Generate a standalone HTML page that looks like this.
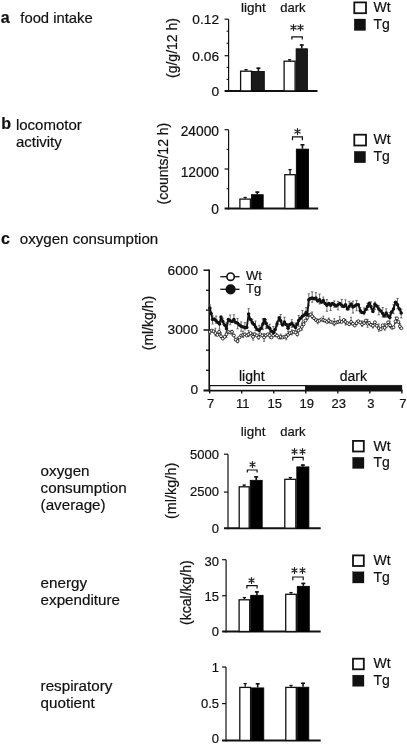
<!DOCTYPE html>
<html><head><meta charset="utf-8"><style>
html,body{margin:0;padding:0;background:#fff;}
svg{display:block;will-change:transform;}
text{font-family:"Liberation Sans", sans-serif;fill:#111;stroke:#111;stroke-width:0.2px;}
</style></head><body>
<svg width="407" height="744" viewBox="0 0 407 744">
<rect width="407" height="744" fill="#fff"/>
<text x="0.8" y="22.5" font-size="16" text-anchor="start" font-weight="bold">a</text>
<text x="20.3" y="22.9" font-size="14.8" text-anchor="start">food intake</text>
<text x="177.3" y="48" font-size="14" text-anchor="middle" transform="rotate(-90 177.3 48)">(g/g/12 h)</text>
<text x="241" y="12.1" font-size="13.5" text-anchor="start">light</text>
<text x="280.2" y="12.1" font-size="13" text-anchor="start">dark</text>
<rect x="354.3" y="2.4" width="11.7" height="10.8" fill="#fff" stroke="#111" stroke-width="1.8"/>
<rect x="354.2" y="19.0" width="11.4" height="11.5" fill="#111" stroke="#111" stroke-width="0.3"/>
<text x="373.5" y="12.1" font-size="14" text-anchor="start">Wt</text>
<text x="373.5" y="28.7" font-size="14" text-anchor="start">Tg</text>
<line x1="228.6" y1="19.2" x2="228.6" y2="91.9" stroke="#111" stroke-width="1.2"/>
<line x1="224.6" y1="90.9" x2="317.5" y2="90.9" stroke="#111" stroke-width="2"/>
<line x1="224.6" y1="19.2" x2="228.6" y2="19.2" stroke="#111" stroke-width="1.2"/>
<line x1="224.6" y1="55.7" x2="228.6" y2="55.7" stroke="#111" stroke-width="1.2"/>
<line x1="226.6" y1="31.2" x2="228.6" y2="31.2" stroke="#111" stroke-width="1.1"/>
<line x1="226.6" y1="43.2" x2="228.6" y2="43.2" stroke="#111" stroke-width="1.1"/>
<line x1="226.6" y1="67.4" x2="228.6" y2="67.4" stroke="#111" stroke-width="1.1"/>
<line x1="226.6" y1="79.4" x2="228.6" y2="79.4" stroke="#111" stroke-width="1.1"/>
<text x="219" y="24.432" font-size="13.7" text-anchor="end">0.12</text>
<text x="219" y="60.632000000000005" font-size="13.7" text-anchor="end">0.06</text>
<text x="219" y="95.932" font-size="13.7" text-anchor="end">0</text>
<line x1="246.05" y1="69.4" x2="246.05" y2="70.6" stroke="#111" stroke-width="1.3"/>
<line x1="244.45000000000002" y1="69.7" x2="247.65" y2="69.7" stroke="#111" stroke-width="1.3"/>
<rect x="240.6" y="71.19999999999999" width="10.899999999999995" height="19.70000000000001" fill="#fff" stroke="#111" stroke-width="1.3"/>
<rect x="252.5" y="71.4" width="11.799999999999994" height="19.500000000000007" fill="#1a1a1a" stroke="#000" stroke-width="0.8"/>
<line x1="258.4" y1="67.7" x2="258.4" y2="71" stroke="#111" stroke-width="1.6"/>
<line x1="256.4" y1="68.2" x2="260.4" y2="68.2" stroke="#111" stroke-width="1.6"/>
<line x1="289.6" y1="59.5" x2="289.6" y2="60.6" stroke="#111" stroke-width="1.3"/>
<line x1="288.0" y1="59.8" x2="291.20000000000005" y2="59.8" stroke="#111" stroke-width="1.3"/>
<rect x="284.1" y="61.2" width="10.99999999999999" height="29.700000000000003" fill="#fff" stroke="#111" stroke-width="1.3"/>
<rect x="296.09999999999997" y="48.8" width="11.300000000000022" height="42.10000000000001" fill="#1a1a1a" stroke="#000" stroke-width="0.8"/>
<line x1="301.75" y1="44.5" x2="301.75" y2="48.4" stroke="#111" stroke-width="1.6"/>
<line x1="299.75" y1="45.0" x2="303.75" y2="45.0" stroke="#111" stroke-width="1.6"/>
<path d="M291.9 39.6 L291.9 36.8 L302.3 36.8 L302.3 39.6" fill="none" stroke="#111" stroke-width="1.2"/>
<path d="M293.50 24.50 L293.50 30.50 M296.10 26.00 L290.90 29.00 M296.10 29.00 L290.90 26.00" fill="none" stroke="#222" stroke-width="1.25" stroke-linecap="round"/>
<path d="M300.50 24.50 L300.50 30.50 M303.10 26.00 L297.90 29.00 M303.10 29.00 L297.90 26.00" fill="none" stroke="#222" stroke-width="1.25" stroke-linecap="round"/>
<text x="1.2" y="129.3" font-size="16" text-anchor="start" font-weight="bold">b</text>
<text x="15.9" y="129.6" font-size="15" text-anchor="start">locomotor</text>
<text x="15.9" y="146.6" font-size="15" text-anchor="start">activity</text>
<text x="168.5" y="163.6" font-size="14" text-anchor="middle" transform="rotate(-90 168.5 163.6)">(counts/12 h)</text>
<rect x="354.3" y="134.70000000000002" width="11.7" height="10.8" fill="#fff" stroke="#111" stroke-width="1.8"/>
<rect x="354.2" y="151.3" width="11.4" height="11.5" fill="#111" stroke="#111" stroke-width="0.3"/>
<text x="373.5" y="144.4" font-size="14" text-anchor="start">Wt</text>
<text x="373.5" y="161.0" font-size="14" text-anchor="start">Tg</text>
<line x1="228.6" y1="129.7" x2="228.6" y2="209.4" stroke="#111" stroke-width="1.2"/>
<line x1="224.6" y1="208.4" x2="318.2" y2="208.4" stroke="#111" stroke-width="2"/>
<line x1="224.6" y1="129.7" x2="228.6" y2="129.7" stroke="#111" stroke-width="1.2"/>
<line x1="224.6" y1="169" x2="228.6" y2="169" stroke="#111" stroke-width="1.2"/>
<line x1="226.6" y1="149.4" x2="228.6" y2="149.4" stroke="#111" stroke-width="1.1"/>
<line x1="226.6" y1="188.7" x2="228.6" y2="188.7" stroke="#111" stroke-width="1.1"/>
<text x="219" y="135.868" font-size="13.8" text-anchor="end">24000</text>
<text x="219" y="176.56799999999998" font-size="13.8" text-anchor="end">12000</text>
<text x="219" y="213.56799999999998" font-size="13.8" text-anchor="end">0</text>
<line x1="245.15" y1="197.2" x2="245.15" y2="198.5" stroke="#111" stroke-width="1.3"/>
<line x1="243.55" y1="197.5" x2="246.75" y2="197.5" stroke="#111" stroke-width="1.3"/>
<rect x="239.9" y="199.1" width="10.49999999999999" height="9.300000000000006" fill="#fff" stroke="#111" stroke-width="1.3"/>
<rect x="251.4" y="194.70000000000002" width="11.800000000000022" height="13.699999999999994" fill="#000" stroke="#000" stroke-width="0.8"/>
<line x1="257.3" y1="191.6" x2="257.3" y2="194.3" stroke="#111" stroke-width="1.6"/>
<line x1="255.3" y1="192.1" x2="259.3" y2="192.1" stroke="#111" stroke-width="1.6"/>
<line x1="290.04999999999995" y1="169.3" x2="290.04999999999995" y2="174.1" stroke="#111" stroke-width="1.3"/>
<line x1="288.44999999999993" y1="169.60000000000002" x2="291.65" y2="169.60000000000002" stroke="#111" stroke-width="1.3"/>
<rect x="284.8" y="174.7" width="10.49999999999999" height="33.70000000000001" fill="#fff" stroke="#111" stroke-width="1.3"/>
<rect x="296.29999999999995" y="149.1" width="12.300000000000022" height="59.30000000000002" fill="#000" stroke="#000" stroke-width="0.8"/>
<line x1="302.45" y1="144.3" x2="302.45" y2="148.7" stroke="#111" stroke-width="1.6"/>
<line x1="300.45" y1="144.8" x2="304.45" y2="144.8" stroke="#111" stroke-width="1.6"/>
<path d="M292.5 140.3 L292.5 136.8 L302.4 136.8 L302.4 140.3" fill="none" stroke="#111" stroke-width="1.2"/>
<path d="M297.50 128.50 L297.50 134.50 M300.10 130.00 L294.90 133.00 M300.10 133.00 L294.90 130.00" fill="none" stroke="#222" stroke-width="1.25" stroke-linecap="round"/>
<text x="1.1" y="244" font-size="16" text-anchor="start" font-weight="bold">c</text>
<text x="19.8" y="244" font-size="15.1" text-anchor="start">oxygen consumption</text>
<line x1="209.2" y1="269.5" x2="209.2" y2="391.5" stroke="#111" stroke-width="1.6"/>
<line x1="203.5" y1="390.5" x2="402.5" y2="390.5" stroke="#111" stroke-width="2"/>
<line x1="203.5" y1="270.2" x2="209.2" y2="270.2" stroke="#111" stroke-width="1.5"/>
<line x1="203.5" y1="330" x2="209.2" y2="330" stroke="#111" stroke-width="1.5"/>
<line x1="206" y1="290.3" x2="209.2" y2="290.3" stroke="#111" stroke-width="1.3"/>
<line x1="206" y1="310.1" x2="209.2" y2="310.1" stroke="#111" stroke-width="1.3"/>
<line x1="206" y1="350.2" x2="209.2" y2="350.2" stroke="#111" stroke-width="1.3"/>
<line x1="206" y1="370.3" x2="209.2" y2="370.3" stroke="#111" stroke-width="1.3"/>
<line x1="209.7" y1="390.5" x2="209.7" y2="393.5" stroke="#111" stroke-width="1.3"/>
<text x="210.6" y="407.7" font-size="13" text-anchor="middle">7</text>
<line x1="241.73" y1="390.5" x2="241.73" y2="393.5" stroke="#111" stroke-width="1.3"/>
<text x="242.63" y="407.7" font-size="13" text-anchor="middle">11</text>
<line x1="273.76" y1="390.5" x2="273.76" y2="393.5" stroke="#111" stroke-width="1.3"/>
<text x="274.65999999999997" y="407.7" font-size="13" text-anchor="middle">15</text>
<line x1="305.78999999999996" y1="390.5" x2="305.78999999999996" y2="393.5" stroke="#111" stroke-width="1.3"/>
<text x="306.68999999999994" y="407.7" font-size="13" text-anchor="middle">19</text>
<line x1="337.82" y1="390.5" x2="337.82" y2="393.5" stroke="#111" stroke-width="1.3"/>
<text x="338.71999999999997" y="407.7" font-size="13" text-anchor="middle">23</text>
<line x1="369.85" y1="390.5" x2="369.85" y2="393.5" stroke="#111" stroke-width="1.3"/>
<text x="370.75" y="407.7" font-size="13" text-anchor="middle">3</text>
<line x1="401.88" y1="390.5" x2="401.88" y2="393.5" stroke="#111" stroke-width="1.3"/>
<text x="402.78" y="407.7" font-size="13" text-anchor="middle">7</text>
<text x="198" y="274.7" font-size="13.7" text-anchor="end">6000</text>
<text x="198" y="334.2" font-size="13.7" text-anchor="end">3000</text>
<text x="198" y="394.3" font-size="13.7" text-anchor="end">0</text>
<text x="153.3" y="323" font-size="14" text-anchor="middle" transform="rotate(-90 153.3 323)">(ml/kg/h)</text>
<rect x="209.7" y="385.6" width="96.1" height="4.8" fill="#fff" stroke="#111" stroke-width="1.2"/>
<rect x="305.8" y="385.2" width="96.1" height="5.3" fill="#111" stroke="#111" stroke-width="0.5"/>
<text x="239" y="380.6" font-size="14" text-anchor="start">light</text>
<text x="339.8" y="380.6" font-size="14" text-anchor="start">dark</text>
<line x1="220.3" y1="276.7" x2="239.5" y2="276.7" stroke="#111" stroke-width="1.3"/>
<circle cx="230.6" cy="276.7" r="3.7" fill="#fff" stroke="#111" stroke-width="1.6"/>
<line x1="220.3" y1="289.3" x2="239.5" y2="289.3" stroke="#111" stroke-width="1.3"/>
<circle cx="230.6" cy="289.3" r="5.1" fill="#111"/>
<text x="246" y="280" font-size="13" text-anchor="start">Wt</text>
<text x="246" y="293" font-size="13" text-anchor="start">Tg</text>
<path d="M209.9 304.8 V312.1 M208.8 304.8 H211.0 M208.8 312.1 H211.0 M212.6 315.9 V324.0 M211.5 315.9 H213.7 M211.5 324.0 H213.7 M216.1 316.0 V323.1 M215.0 316.0 H217.2 M215.0 323.1 H217.2 M219.5 321.8 V329.2 M218.4 321.8 H220.6 M218.4 329.2 H220.6 M222.8 318.2 V324.3 M221.70000000000002 318.2 H223.9 M221.70000000000002 324.3 H223.9 M226.5 322.3 V332.7 M225.4 322.3 H227.6 M225.4 332.7 H227.6 M230.2 315.0 V324.7 M229.1 315.0 H231.29999999999998 M229.1 324.7 H231.29999999999998 M233.9 314.7 V322.2 M232.8 314.7 H235.0 M232.8 322.2 H235.0 M237.6 318.4 V328.8 M236.5 318.4 H238.7 M236.5 328.8 H238.7 M241.2 321.9 V331.3 M240.1 321.9 H242.29999999999998 M240.1 331.3 H242.29999999999998 M244.9 322.6 V329.9 M243.8 322.6 H246.0 M243.8 329.9 H246.0 M248.6 308.6 V318.4 M247.5 308.6 H249.7 M247.5 318.4 H249.7 M252.3 319.2 V324.7 M251.20000000000002 319.2 H253.4 M251.20000000000002 324.7 H253.4 M255.5 321.0 V330.8 M254.4 321.0 H256.6 M254.4 330.8 H256.6 M259.2 325.4 V336.1 M258.09999999999997 325.4 H260.3 M258.09999999999997 336.1 H260.3 M262.9 318.7 V329.6 M261.79999999999995 318.7 H264.0 M261.79999999999995 329.6 H264.0 M266 319.5 V328.5 M264.9 319.5 H267.1 M264.9 328.5 H267.1 M269.7 324.2 V333.9 M268.59999999999997 324.2 H270.8 M268.59999999999997 333.9 H270.8 M273.3 326.5 V334.9 M272.2 326.5 H274.40000000000003 M272.2 334.9 H274.40000000000003 M277 321.3 V326.8 M275.9 321.3 H278.1 M275.9 326.8 H278.1 M280.7 314.5 V324.5 M279.59999999999997 314.5 H281.8 M279.59999999999997 324.5 H281.8 M284.4 317.2 V325.2 M283.29999999999995 317.2 H285.5 M283.29999999999995 325.2 H285.5 M288.1 323.9 V331.7 M287.0 323.9 H289.20000000000005 M287.0 331.7 H289.20000000000005 M291.8 319.7 V327.6 M290.7 319.7 H292.90000000000003 M290.7 327.6 H292.90000000000003 M295.5 323.0 V333.2 M294.4 323.0 H296.6 M294.4 333.2 H296.6 M298.7 315.5 V326.3 M297.59999999999997 315.5 H299.8 M297.59999999999997 326.3 H299.8 M302.4 310.4 V322.3 M301.29999999999995 310.4 H303.5 M301.29999999999995 322.3 H303.5 M306.1 307.6 V315.3 M305.0 307.6 H307.20000000000005 M305.0 315.3 H307.20000000000005 M308.8 293.8 V305.6 M307.7 293.8 H309.90000000000003 M307.7 305.6 H309.90000000000003 M312.2 291.8 V302.2 M311.09999999999997 291.8 H313.3 M311.09999999999997 302.2 H313.3 M315.9 292.7 V300.7 M314.79999999999995 292.7 H317.0 M314.79999999999995 300.7 H317.0 M319.6 294.0 V304.0 M318.5 294.0 H320.70000000000005 M318.5 304.0 H320.70000000000005 M323.3 297.1 V302.7 M322.2 297.1 H324.40000000000003 M322.2 302.7 H324.40000000000003 M326.9 299.5 V311.3 M325.79999999999995 299.5 H328.0 M325.79999999999995 311.3 H328.0 M330.6 302.9 V310.5 M329.5 302.9 H331.70000000000005 M329.5 310.5 H331.70000000000005 M334.3 300.9 V307.3 M333.2 300.9 H335.40000000000003 M333.2 307.3 H335.40000000000003 M338 301.4 V309.8 M336.9 301.4 H339.1 M336.9 309.8 H339.1 M341.8 299.4 V307.5 M340.7 299.4 H342.90000000000003 M340.7 307.5 H342.90000000000003 M345.5 299.9 V306.9 M344.4 299.9 H346.6 M344.4 306.9 H346.6 M349.2 301.3 V309.8 M348.09999999999997 301.3 H350.3 M348.09999999999997 309.8 H350.3 M352.9 301.1 V313.0 M351.79999999999995 301.1 H354.0 M351.79999999999995 313.0 H354.0 M356.6 300.4 V310.7 M355.5 300.4 H357.70000000000005 M355.5 310.7 H357.70000000000005 M360.3 307.4 V313.1 M359.2 307.4 H361.40000000000003 M359.2 313.1 H361.40000000000003 M364 307.9 V314.7 M362.9 307.9 H365.1 M362.9 314.7 H365.1 M367.6 303.6 V310.1 M366.5 303.6 H368.70000000000005 M366.5 310.1 H368.70000000000005 M370.9 301.9 V309.2 M369.79999999999995 301.9 H372.0 M369.79999999999995 309.2 H372.0 M374.9 302.0 V309.7 M373.79999999999995 302.0 H376.0 M373.79999999999995 309.7 H376.0 M378.8 305.7 V314.9 M377.7 305.7 H379.90000000000003 M377.7 314.9 H379.90000000000003 M382.7 307.5 V317.0 M381.59999999999997 307.5 H383.8 M381.59999999999997 317.0 H383.8 M386.2 308.9 V317.1 M385.09999999999997 308.9 H387.3 M385.09999999999997 317.1 H387.3 M389.8 312.5 V321.8 M388.7 312.5 H390.90000000000003 M388.7 321.8 H390.90000000000003 M393.5 304.6 V313.6 M392.4 304.6 H394.6 M392.4 313.6 H394.6 M397.5 298.5 V308.7 M396.4 298.5 H398.6 M396.4 308.7 H398.6 M401.2 309.1 V317.9 M400.09999999999997 309.1 H402.3 M400.09999999999997 317.9 H402.3 M209.9 329.6 V334.2 M208.9 329.6 H210.9 M208.9 334.2 H210.9 M215.4 328.2 V335.9 M214.4 328.2 H216.4 M214.4 335.9 H216.4 M221 332.8 V337.7 M220 332.8 H222 M220 337.7 H222 M226.5 331.3 V337.2 M225.5 331.3 H227.5 M225.5 337.2 H227.5 M232 330.3 V334.9 M231 330.3 H233 M231 334.9 H233 M237.6 337.4 V342.8 M236.6 337.4 H238.6 M236.6 342.8 H238.6 M243.1 331.2 V337.6 M242.1 331.2 H244.1 M242.1 337.6 H244.1 M248.6 330.4 V336.7 M247.6 330.4 H249.6 M247.6 336.7 H249.6 M253.1 332.8 V340.1 M252.1 332.8 H254.1 M252.1 340.1 H254.1 M258.6 335.8 V339.1 M257.6 335.8 H259.6 M257.6 339.1 H259.6 M264.1 333.5 V341.3 M263.1 333.5 H265.1 M263.1 341.3 H265.1 M269.7 333.1 V338.1 M268.7 333.1 H270.7 M268.7 338.1 H270.7 M275.2 330.7 V336.6 M274.2 330.7 H276.2 M274.2 336.6 H276.2 M280.7 334.0 V339.1 M279.7 334.0 H281.7 M279.7 339.1 H281.7 M286.2 334.0 V339.8 M285.2 334.0 H287.2 M285.2 339.8 H287.2 M291.8 329.9 V334.9 M290.8 329.9 H292.8 M290.8 334.9 H292.8 M297.3 330.1 V335.9 M296.3 330.1 H298.3 M296.3 335.9 H298.3 M301.8 323.3 V330.1 M300.8 323.3 H302.8 M300.8 330.1 H302.8 M307.3 315.0 V319.7 M306.3 315.0 H308.3 M306.3 319.7 H308.3 M312.2 312.0 V318.4 M311.2 312.0 H313.2 M311.2 318.4 H313.2 M317.7 319.0 V323.8 M316.7 319.0 H318.7 M316.7 323.8 H318.7 M323.3 316.1 V321.8 M322.3 316.1 H324.3 M322.3 321.8 H324.3 M328.8 318.0 V322.9 M327.8 318.0 H329.8 M327.8 322.9 H329.8 M334.3 318.7 V325.7 M333.3 318.7 H335.3 M333.3 325.7 H335.3 M339.8 316.7 V323.1 M338.8 316.7 H340.8 M338.8 323.1 H340.8 M345.5 319.2 V325.0 M344.5 319.2 H346.5 M344.5 325.0 H346.5 M351.1 317.3 V324.5 M350.1 317.3 H352.1 M350.1 324.5 H352.1 M356.6 320.8 V324.9 M355.6 320.8 H357.6 M355.6 324.9 H357.6 M362.1 320.9 V326.3 M361.1 320.9 H363.1 M361.1 326.3 H363.1 M367.6 319.4 V327.3 M366.6 319.4 H368.6 M366.6 327.3 H368.6 M372.9 323.7 V328.0 M371.9 323.7 H373.9 M371.9 328.0 H373.9 M378.8 323.9 V331.3 M377.8 323.9 H379.8 M377.8 331.3 H379.8 M384.7 323.5 V330.2 M383.7 323.5 H385.7 M383.7 330.2 H385.7 M390.1 323.3 V327.5 M389.1 323.3 H391.1 M389.1 327.5 H391.1 M395.5 317.1 V323.6 M394.5 317.1 H396.5 M394.5 323.6 H396.5 M399.9 323.6 V328.8 M398.9 323.6 H400.9 M398.9 328.8 H400.9" fill="none" stroke="#444" stroke-width="0.75"/>
<path d="M209.9 331.9 L211.8 330.6 L213.6 331.2 L215.4 333.1 L217.3 334.9 L219.1 331.9 L221 336.2 L222.8 338.6 L224.7 336.8 L226.5 334.3 L228.3 331.9 L230.2 332.5 L232 331.9 L233.9 335.5 L235.7 339.8 L237.6 341.1 L239.4 337.4 L241.2 335.5 L243.1 334.9 L244.9 334.3 L246.8 335.5 L248.6 334.3 L250.5 333.1 L252.3 335.5 L253.1 336.8 L254.9 334.3 L256.8 335.5 L258.6 337.4 L260.4 334.3 L262.3 335.5 L264.1 337.4 L266 335.5 L267.8 334.3 L269.7 335.5 L271.5 337.4 L273.3 335.5 L275.2 334.3 L277 335.5 L278.9 337.4 L280.7 336.8 L282.6 337.4 L284.4 336.8 L286.2 336.8 L288.1 334.9 L289.9 333.1 L291.8 332.5 L293.6 331.9 L295.5 332.5 L297.3 334.3 L298.7 330.5 L300.5 329.2 L301.8 326.8 L303.6 324.3 L305.4 320.6 L307.3 317.6 L309.1 315.1 L310.7 314.5 L312.2 316.3 L314 318.2 L315.9 320 L317.7 321.2 L319.6 320.6 L321.4 319.4 L323.3 320 L325.1 320.6 L326.9 321.9 L328.8 320.6 L330.6 321.9 L332.5 322.5 L334.3 323.1 L336.2 322.5 L338 321.9 L339.8 321.2 L341.8 321.9 L343.7 320 L345.5 321.9 L347.4 323.1 L349.2 324.3 L351.1 321.9 L352.9 323.7 L354.7 325.5 L356.6 323.1 L358.4 321.2 L360.3 322.5 L362.1 324.3 L364 323.1 L365.8 320.6 L367.6 323.7 L369.2 322.8 L370.9 324.8 L372.9 325.8 L374.9 322.3 L376.8 325.8 L378.8 328.2 L380.8 329.2 L382.7 325.3 L384.7 327.8 L386.7 325.8 L388.1 322.3 L390.1 325.3 L392.1 327.8 L393.5 327.3 L395.5 321.4 L397 318.4 L398.4 321.9 L399.9 326.3 L401.4 328.2" fill="none" stroke="#222" stroke-width="0.9"/>
<g fill="#fff" stroke="#111" stroke-width="0.85"><circle cx="209.9" cy="331.9" r="1.45"/><circle cx="211.8" cy="330.6" r="1.45"/><circle cx="213.6" cy="331.2" r="1.45"/><circle cx="215.4" cy="333.1" r="1.45"/><circle cx="217.3" cy="334.9" r="1.45"/><circle cx="219.1" cy="331.9" r="1.45"/><circle cx="221" cy="336.2" r="1.45"/><circle cx="222.8" cy="338.6" r="1.45"/><circle cx="224.7" cy="336.8" r="1.45"/><circle cx="226.5" cy="334.3" r="1.45"/><circle cx="228.3" cy="331.9" r="1.45"/><circle cx="230.2" cy="332.5" r="1.45"/><circle cx="232" cy="331.9" r="1.45"/><circle cx="233.9" cy="335.5" r="1.45"/><circle cx="235.7" cy="339.8" r="1.45"/><circle cx="237.6" cy="341.1" r="1.45"/><circle cx="239.4" cy="337.4" r="1.45"/><circle cx="241.2" cy="335.5" r="1.45"/><circle cx="243.1" cy="334.9" r="1.45"/><circle cx="244.9" cy="334.3" r="1.45"/><circle cx="246.8" cy="335.5" r="1.45"/><circle cx="248.6" cy="334.3" r="1.45"/><circle cx="250.5" cy="333.1" r="1.45"/><circle cx="252.3" cy="335.5" r="1.45"/><circle cx="253.1" cy="336.8" r="1.45"/><circle cx="254.9" cy="334.3" r="1.45"/><circle cx="256.8" cy="335.5" r="1.45"/><circle cx="258.6" cy="337.4" r="1.45"/><circle cx="260.4" cy="334.3" r="1.45"/><circle cx="262.3" cy="335.5" r="1.45"/><circle cx="264.1" cy="337.4" r="1.45"/><circle cx="266" cy="335.5" r="1.45"/><circle cx="267.8" cy="334.3" r="1.45"/><circle cx="269.7" cy="335.5" r="1.45"/><circle cx="271.5" cy="337.4" r="1.45"/><circle cx="273.3" cy="335.5" r="1.45"/><circle cx="275.2" cy="334.3" r="1.45"/><circle cx="277" cy="335.5" r="1.45"/><circle cx="278.9" cy="337.4" r="1.45"/><circle cx="280.7" cy="336.8" r="1.45"/><circle cx="282.6" cy="337.4" r="1.45"/><circle cx="284.4" cy="336.8" r="1.45"/><circle cx="286.2" cy="336.8" r="1.45"/><circle cx="288.1" cy="334.9" r="1.45"/><circle cx="289.9" cy="333.1" r="1.45"/><circle cx="291.8" cy="332.5" r="1.45"/><circle cx="293.6" cy="331.9" r="1.45"/><circle cx="295.5" cy="332.5" r="1.45"/><circle cx="297.3" cy="334.3" r="1.45"/><circle cx="298.7" cy="330.5" r="1.45"/><circle cx="300.5" cy="329.2" r="1.45"/><circle cx="301.8" cy="326.8" r="1.45"/><circle cx="303.6" cy="324.3" r="1.45"/><circle cx="305.4" cy="320.6" r="1.45"/><circle cx="307.3" cy="317.6" r="1.45"/><circle cx="309.1" cy="315.1" r="1.45"/><circle cx="310.7" cy="314.5" r="1.45"/><circle cx="312.2" cy="316.3" r="1.45"/><circle cx="314" cy="318.2" r="1.45"/><circle cx="315.9" cy="320" r="1.45"/><circle cx="317.7" cy="321.2" r="1.45"/><circle cx="319.6" cy="320.6" r="1.45"/><circle cx="321.4" cy="319.4" r="1.45"/><circle cx="323.3" cy="320" r="1.45"/><circle cx="325.1" cy="320.6" r="1.45"/><circle cx="326.9" cy="321.9" r="1.45"/><circle cx="328.8" cy="320.6" r="1.45"/><circle cx="330.6" cy="321.9" r="1.45"/><circle cx="332.5" cy="322.5" r="1.45"/><circle cx="334.3" cy="323.1" r="1.45"/><circle cx="336.2" cy="322.5" r="1.45"/><circle cx="338" cy="321.9" r="1.45"/><circle cx="339.8" cy="321.2" r="1.45"/><circle cx="341.8" cy="321.9" r="1.45"/><circle cx="343.7" cy="320" r="1.45"/><circle cx="345.5" cy="321.9" r="1.45"/><circle cx="347.4" cy="323.1" r="1.45"/><circle cx="349.2" cy="324.3" r="1.45"/><circle cx="351.1" cy="321.9" r="1.45"/><circle cx="352.9" cy="323.7" r="1.45"/><circle cx="354.7" cy="325.5" r="1.45"/><circle cx="356.6" cy="323.1" r="1.45"/><circle cx="358.4" cy="321.2" r="1.45"/><circle cx="360.3" cy="322.5" r="1.45"/><circle cx="362.1" cy="324.3" r="1.45"/><circle cx="364" cy="323.1" r="1.45"/><circle cx="365.8" cy="320.6" r="1.45"/><circle cx="367.6" cy="323.7" r="1.45"/><circle cx="369.2" cy="322.8" r="1.45"/><circle cx="370.9" cy="324.8" r="1.45"/><circle cx="372.9" cy="325.8" r="1.45"/><circle cx="374.9" cy="322.3" r="1.45"/><circle cx="376.8" cy="325.8" r="1.45"/><circle cx="378.8" cy="328.2" r="1.45"/><circle cx="380.8" cy="329.2" r="1.45"/><circle cx="382.7" cy="325.3" r="1.45"/><circle cx="384.7" cy="327.8" r="1.45"/><circle cx="386.7" cy="325.8" r="1.45"/><circle cx="388.1" cy="322.3" r="1.45"/><circle cx="390.1" cy="325.3" r="1.45"/><circle cx="392.1" cy="327.8" r="1.45"/><circle cx="393.5" cy="327.3" r="1.45"/><circle cx="395.5" cy="321.4" r="1.45"/><circle cx="397" cy="318.4" r="1.45"/><circle cx="398.4" cy="321.9" r="1.45"/><circle cx="399.9" cy="326.3" r="1.45"/><circle cx="401.4" cy="328.2" r="1.45"/></g>
<path d="M209.9 307.9 L211.1 313.4 L212.6 319.6 L214.2 319 L216.1 320.8 L217.9 322.6 L219.5 323.9 L221 317.1 L222.8 321.4 L224.7 325.1 L226.5 328.8 L228.3 319.6 L230.2 320.8 L232 321.4 L233.9 319.6 L235.7 322.6 L237.6 323.3 L239.4 325.1 L241.2 326.3 L243.1 326.9 L244.9 327.6 L246.8 327.6 L248.6 314 L250.5 319.6 L252.3 322.6 L254.1 324.5 L255.5 326.9 L257.4 329.4 L259.2 330.6 L261.1 328.2 L262.9 323.9 L264.5 319.6 L266 323.3 L267.8 326.9 L269.7 328.2 L271.5 331.2 L273.3 332.5 L275.2 329.4 L277 323.9 L279.2 317.7 L280.7 320.8 L282.6 325.1 L284.4 322 L286.2 324.5 L288.1 328.2 L289.9 324.5 L291.8 323.3 L293.6 325.7 L295.5 327.6 L297.3 323.9 L298.7 320.6 L300.5 318.2 L302.4 316.3 L304.2 315.1 L306.1 312.6 L307.3 314.5 L308.8 299.7 L310.4 298.5 L312.2 297.9 L314 298.8 L315.9 297.9 L317.7 301 L319.6 299.7 L321.4 302.2 L323.3 300.4 L325.1 303.4 L326.9 305.3 L328.8 303.4 L330.6 305.3 L332.5 303.4 L334.3 304.7 L336.2 305.9 L338 304.7 L339.8 303.4 L341.8 305.3 L343.7 306.5 L345.5 304.7 L347.4 309 L349.2 306.5 L351.1 304 L352.9 307.1 L354.7 305.9 L356.6 304.7 L358.4 304.7 L360.3 310.8 L362.1 312.6 L364 312.6 L365.8 309.6 L367.6 306.5 L369.2 303.3 L370.9 306.6 L372.9 311.5 L374.9 304.2 L376.8 306.1 L378.8 309.1 L380.8 311 L382.7 313.5 L384.2 316 L386.2 313 L388.1 316 L389.8 317.4 L391.6 312 L393.5 309.1 L395.5 302.2 L397.5 304.7 L399.4 309.1 L401.2 313" fill="none" stroke="#111" stroke-width="1.9" stroke-linejoin="round"/>
<g fill="#111"><circle cx="209.9" cy="307.9" r="1.75"/><circle cx="211.1" cy="313.4" r="1.75"/><circle cx="212.6" cy="319.6" r="1.75"/><circle cx="214.2" cy="319" r="1.75"/><circle cx="216.1" cy="320.8" r="1.75"/><circle cx="217.9" cy="322.6" r="1.75"/><circle cx="219.5" cy="323.9" r="1.75"/><circle cx="221" cy="317.1" r="1.75"/><circle cx="222.8" cy="321.4" r="1.75"/><circle cx="224.7" cy="325.1" r="1.75"/><circle cx="226.5" cy="328.8" r="1.75"/><circle cx="228.3" cy="319.6" r="1.75"/><circle cx="230.2" cy="320.8" r="1.75"/><circle cx="232" cy="321.4" r="1.75"/><circle cx="233.9" cy="319.6" r="1.75"/><circle cx="235.7" cy="322.6" r="1.75"/><circle cx="237.6" cy="323.3" r="1.75"/><circle cx="239.4" cy="325.1" r="1.75"/><circle cx="241.2" cy="326.3" r="1.75"/><circle cx="243.1" cy="326.9" r="1.75"/><circle cx="244.9" cy="327.6" r="1.75"/><circle cx="246.8" cy="327.6" r="1.75"/><circle cx="248.6" cy="314" r="1.75"/><circle cx="250.5" cy="319.6" r="1.75"/><circle cx="252.3" cy="322.6" r="1.75"/><circle cx="254.1" cy="324.5" r="1.75"/><circle cx="255.5" cy="326.9" r="1.75"/><circle cx="257.4" cy="329.4" r="1.75"/><circle cx="259.2" cy="330.6" r="1.75"/><circle cx="261.1" cy="328.2" r="1.75"/><circle cx="262.9" cy="323.9" r="1.75"/><circle cx="264.5" cy="319.6" r="1.75"/><circle cx="266" cy="323.3" r="1.75"/><circle cx="267.8" cy="326.9" r="1.75"/><circle cx="269.7" cy="328.2" r="1.75"/><circle cx="271.5" cy="331.2" r="1.75"/><circle cx="273.3" cy="332.5" r="1.75"/><circle cx="275.2" cy="329.4" r="1.75"/><circle cx="277" cy="323.9" r="1.75"/><circle cx="279.2" cy="317.7" r="1.75"/><circle cx="280.7" cy="320.8" r="1.75"/><circle cx="282.6" cy="325.1" r="1.75"/><circle cx="284.4" cy="322" r="1.75"/><circle cx="286.2" cy="324.5" r="1.75"/><circle cx="288.1" cy="328.2" r="1.75"/><circle cx="289.9" cy="324.5" r="1.75"/><circle cx="291.8" cy="323.3" r="1.75"/><circle cx="293.6" cy="325.7" r="1.75"/><circle cx="295.5" cy="327.6" r="1.75"/><circle cx="297.3" cy="323.9" r="1.75"/><circle cx="298.7" cy="320.6" r="1.75"/><circle cx="300.5" cy="318.2" r="1.75"/><circle cx="302.4" cy="316.3" r="1.75"/><circle cx="304.2" cy="315.1" r="1.75"/><circle cx="306.1" cy="312.6" r="1.75"/><circle cx="307.3" cy="314.5" r="1.75"/><circle cx="308.8" cy="299.7" r="1.75"/><circle cx="310.4" cy="298.5" r="1.75"/><circle cx="312.2" cy="297.9" r="1.75"/><circle cx="314" cy="298.8" r="1.75"/><circle cx="315.9" cy="297.9" r="1.75"/><circle cx="317.7" cy="301" r="1.75"/><circle cx="319.6" cy="299.7" r="1.75"/><circle cx="321.4" cy="302.2" r="1.75"/><circle cx="323.3" cy="300.4" r="1.75"/><circle cx="325.1" cy="303.4" r="1.75"/><circle cx="326.9" cy="305.3" r="1.75"/><circle cx="328.8" cy="303.4" r="1.75"/><circle cx="330.6" cy="305.3" r="1.75"/><circle cx="332.5" cy="303.4" r="1.75"/><circle cx="334.3" cy="304.7" r="1.75"/><circle cx="336.2" cy="305.9" r="1.75"/><circle cx="338" cy="304.7" r="1.75"/><circle cx="339.8" cy="303.4" r="1.75"/><circle cx="341.8" cy="305.3" r="1.75"/><circle cx="343.7" cy="306.5" r="1.75"/><circle cx="345.5" cy="304.7" r="1.75"/><circle cx="347.4" cy="309" r="1.75"/><circle cx="349.2" cy="306.5" r="1.75"/><circle cx="351.1" cy="304" r="1.75"/><circle cx="352.9" cy="307.1" r="1.75"/><circle cx="354.7" cy="305.9" r="1.75"/><circle cx="356.6" cy="304.7" r="1.75"/><circle cx="358.4" cy="304.7" r="1.75"/><circle cx="360.3" cy="310.8" r="1.75"/><circle cx="362.1" cy="312.6" r="1.75"/><circle cx="364" cy="312.6" r="1.75"/><circle cx="365.8" cy="309.6" r="1.75"/><circle cx="367.6" cy="306.5" r="1.75"/><circle cx="369.2" cy="303.3" r="1.75"/><circle cx="370.9" cy="306.6" r="1.75"/><circle cx="372.9" cy="311.5" r="1.75"/><circle cx="374.9" cy="304.2" r="1.75"/><circle cx="376.8" cy="306.1" r="1.75"/><circle cx="378.8" cy="309.1" r="1.75"/><circle cx="380.8" cy="311" r="1.75"/><circle cx="382.7" cy="313.5" r="1.75"/><circle cx="384.2" cy="316" r="1.75"/><circle cx="386.2" cy="313" r="1.75"/><circle cx="388.1" cy="316" r="1.75"/><circle cx="389.8" cy="317.4" r="1.75"/><circle cx="391.6" cy="312" r="1.75"/><circle cx="393.5" cy="309.1" r="1.75"/><circle cx="395.5" cy="302.2" r="1.75"/><circle cx="397.5" cy="304.7" r="1.75"/><circle cx="399.4" cy="309.1" r="1.75"/><circle cx="401.2" cy="313" r="1.75"/></g>
<text x="240.7" y="436.3" font-size="13.5" text-anchor="start">light</text>
<text x="280.2" y="436.3" font-size="13" text-anchor="start">dark</text>
<text x="40.6" y="475.8" font-size="15.2" text-anchor="start">oxygen</text>
<text x="40.6" y="493" font-size="15.2" text-anchor="start">consumption</text>
<text x="40.6" y="510.3" font-size="15.2" text-anchor="start">(average)</text>
<text x="176.2" y="490.9" font-size="14.5" text-anchor="middle" transform="rotate(-90 176.2 490.9)">(ml/kg/h)</text>
<rect x="353.0" y="440.9" width="10.8" height="10.6" fill="#fff" stroke="#111" stroke-width="1.8"/>
<rect x="352.6" y="457.3" width="11.4" height="11.2" fill="#111" stroke="#111" stroke-width="0.3"/>
<text x="373.5" y="450.6" font-size="14" text-anchor="start">Wt</text>
<text x="373.5" y="467.2" font-size="14" text-anchor="start">Tg</text>
<line x1="228.0" y1="454.2" x2="228.0" y2="529.2" stroke="#111" stroke-width="1.2"/>
<line x1="224.0" y1="528.2" x2="320.7" y2="528.2" stroke="#111" stroke-width="2"/>
<line x1="224.0" y1="454.2" x2="228.0" y2="454.2" stroke="#111" stroke-width="1.2"/>
<line x1="224.0" y1="492.1" x2="228.0" y2="492.1" stroke="#111" stroke-width="1.2"/>
<text x="219" y="459.28000000000003" font-size="13" text-anchor="end">5000</text>
<text x="219" y="495.88" font-size="13" text-anchor="end">2500</text>
<text x="219" y="532.88" font-size="13" text-anchor="end">0</text>
<line x1="244.2" y1="484.8" x2="244.2" y2="486.2" stroke="#111" stroke-width="1.3"/>
<line x1="242.6" y1="485.1" x2="245.79999999999998" y2="485.1" stroke="#111" stroke-width="1.3"/>
<rect x="239.2" y="486.8" width="10.000000000000018" height="41.400000000000055" fill="#fff" stroke="#111" stroke-width="1.3"/>
<rect x="250.20000000000002" y="480.29999999999995" width="12.00000000000001" height="47.90000000000007" fill="#000" stroke="#000" stroke-width="0.8"/>
<line x1="256.20000000000005" y1="476.4" x2="256.20000000000005" y2="479.9" stroke="#111" stroke-width="1.6"/>
<line x1="254.20000000000005" y1="476.9" x2="258.20000000000005" y2="476.9" stroke="#111" stroke-width="1.6"/>
<line x1="290.29999999999995" y1="477.3" x2="290.29999999999995" y2="478.7" stroke="#111" stroke-width="1.3"/>
<line x1="288.69999999999993" y1="477.6" x2="291.9" y2="477.6" stroke="#111" stroke-width="1.3"/>
<rect x="284.8" y="479.3" width="10.99999999999999" height="48.900000000000055" fill="#fff" stroke="#111" stroke-width="1.3"/>
<rect x="296.79999999999995" y="466.9" width="12.100000000000033" height="61.30000000000005" fill="#000" stroke="#000" stroke-width="0.8"/>
<line x1="302.85" y1="464.6" x2="302.85" y2="466.5" stroke="#111" stroke-width="1.6"/>
<line x1="300.85" y1="465.1" x2="304.85" y2="465.1" stroke="#111" stroke-width="1.6"/>
<path d="M247.3 472.6 L247.3 470 L257.1 470 L257.1 472.6" fill="none" stroke="#111" stroke-width="1.2"/>
<path d="M252.50 461.60 L252.50 467.40 M255.01 463.05 L249.99 465.95 M255.01 465.95 L249.99 463.05" fill="none" stroke="#222" stroke-width="1.25" stroke-linecap="round"/>
<path d="M292.8 460.4 L292.8 457.3 L303.2 457.3 L303.2 460.4" fill="none" stroke="#111" stroke-width="1.2"/>
<path d="M294.50 448.60 L294.50 454.40 M297.01 450.05 L291.99 452.95 M297.01 452.95 L291.99 450.05" fill="none" stroke="#222" stroke-width="1.25" stroke-linecap="round"/>
<path d="M302.50 448.60 L302.50 454.40 M305.01 450.05 L299.99 452.95 M305.01 452.95 L299.99 450.05" fill="none" stroke="#222" stroke-width="1.25" stroke-linecap="round"/>
<text x="40.6" y="587.8" font-size="15.2" text-anchor="start">energy</text>
<text x="40.6" y="604.6" font-size="15.2" text-anchor="start">expenditure</text>
<text x="190.6" y="592.6" font-size="14" text-anchor="middle" transform="rotate(-90 190.6 592.6)">(kcal/kg/h)</text>
<rect x="353.0" y="555.4" width="10.8" height="10.6" fill="#fff" stroke="#111" stroke-width="1.8"/>
<rect x="352.6" y="571.8" width="11.4" height="11.2" fill="#111" stroke="#111" stroke-width="0.3"/>
<text x="373.5" y="565.1" font-size="14" text-anchor="start">Wt</text>
<text x="373.5" y="581.7" font-size="14" text-anchor="start">Tg</text>
<line x1="226.1" y1="559.7" x2="226.1" y2="632.5" stroke="#111" stroke-width="1.2"/>
<line x1="222.1" y1="631.5" x2="320.7" y2="631.5" stroke="#111" stroke-width="2"/>
<line x1="222.1" y1="559.7" x2="226.1" y2="559.7" stroke="#111" stroke-width="1.2"/>
<line x1="222.1" y1="595.7" x2="226.1" y2="595.7" stroke="#111" stroke-width="1.2"/>
<text x="219" y="566.0799999999999" font-size="13" text-anchor="end">30</text>
<text x="219" y="600.9799999999999" font-size="13" text-anchor="end">15</text>
<text x="219" y="635.9799999999999" font-size="13" text-anchor="end">0</text>
<line x1="244.4" y1="597.3" x2="244.4" y2="599.2" stroke="#111" stroke-width="1.3"/>
<line x1="242.8" y1="597.5999999999999" x2="246.0" y2="597.5999999999999" stroke="#111" stroke-width="1.3"/>
<rect x="239.1" y="599.8000000000001" width="10.600000000000012" height="31.699999999999953" fill="#fff" stroke="#111" stroke-width="1.3"/>
<rect x="250.70000000000002" y="595.3" width="12.399999999999988" height="36.200000000000024" fill="#000" stroke="#000" stroke-width="0.8"/>
<line x1="256.9" y1="591.4" x2="256.9" y2="594.9" stroke="#111" stroke-width="1.6"/>
<line x1="254.89999999999998" y1="591.9" x2="258.9" y2="591.9" stroke="#111" stroke-width="1.6"/>
<line x1="291.0" y1="592.3" x2="291.0" y2="593.7" stroke="#111" stroke-width="1.3"/>
<line x1="289.4" y1="592.5999999999999" x2="292.6" y2="592.5999999999999" stroke="#111" stroke-width="1.3"/>
<rect x="285.70000000000005" y="594.3000000000001" width="10.599999999999955" height="37.19999999999995" fill="#fff" stroke="#111" stroke-width="1.3"/>
<rect x="297.29999999999995" y="586.3" width="12.00000000000001" height="45.200000000000024" fill="#000" stroke="#000" stroke-width="0.8"/>
<line x1="303.29999999999995" y1="582.9" x2="303.29999999999995" y2="585.9" stroke="#111" stroke-width="1.6"/>
<line x1="301.29999999999995" y1="583.4" x2="305.29999999999995" y2="583.4" stroke="#111" stroke-width="1.6"/>
<path d="M246.9 588.6 L246.9 585.6 L257.1 585.6 L257.1 588.6" fill="none" stroke="#111" stroke-width="1.2"/>
<path d="M251.50 577.60 L251.50 583.40 M254.01 579.05 L248.99 581.95 M254.01 581.95 L248.99 579.05" fill="none" stroke="#222" stroke-width="1.25" stroke-linecap="round"/>
<path d="M292.8 580.3 L292.8 577.0 L303.2 577.0 L303.2 580.3" fill="none" stroke="#111" stroke-width="1.2"/>
<path d="M294.50 567.60 L294.50 573.40 M297.01 569.05 L291.99 571.95 M297.01 571.95 L291.99 569.05" fill="none" stroke="#222" stroke-width="1.25" stroke-linecap="round"/>
<path d="M302.50 567.60 L302.50 573.40 M305.01 569.05 L299.99 571.95 M305.01 571.95 L299.99 569.05" fill="none" stroke="#222" stroke-width="1.25" stroke-linecap="round"/>
<text x="40.6" y="690.8" font-size="15.2" text-anchor="start">respiratory</text>
<text x="40.6" y="708" font-size="15.2" text-anchor="start">quotient</text>
<rect x="353.0" y="658.6999999999999" width="10.8" height="10.6" fill="#fff" stroke="#111" stroke-width="1.8"/>
<rect x="352.6" y="675.0999999999999" width="11.4" height="11.2" fill="#111" stroke="#111" stroke-width="0.3"/>
<text x="373.5" y="668.4" font-size="14" text-anchor="start">Wt</text>
<text x="373.5" y="685.0" font-size="14" text-anchor="start">Tg</text>
<line x1="226.0" y1="667" x2="226.0" y2="741.4" stroke="#111" stroke-width="1.2"/>
<line x1="222.0" y1="740.4" x2="320.7" y2="740.4" stroke="#111" stroke-width="2"/>
<line x1="222.0" y1="667" x2="226.0" y2="667" stroke="#111" stroke-width="1.2"/>
<line x1="222.0" y1="703.6" x2="226.0" y2="703.6" stroke="#111" stroke-width="1.2"/>
<text x="219" y="671.9799999999999" font-size="13" text-anchor="end">1</text>
<text x="219" y="707.9799999999999" font-size="13" text-anchor="end">0.5</text>
<text x="219" y="742.5799999999999" font-size="13" text-anchor="end">0</text>
<line x1="245.2" y1="683.3" x2="245.2" y2="686.8" stroke="#111" stroke-width="1.3"/>
<line x1="243.6" y1="683.5999999999999" x2="246.79999999999998" y2="683.5999999999999" stroke="#111" stroke-width="1.3"/>
<rect x="239.79999999999998" y="687.4" width="10.8" height="53.00000000000002" fill="#fff" stroke="#111" stroke-width="1.3"/>
<rect x="251.6" y="687.9" width="12.2" height="52.49999999999998" fill="#000" stroke="#000" stroke-width="0.8"/>
<line x1="257.7" y1="683.3" x2="257.7" y2="687.5" stroke="#111" stroke-width="1.6"/>
<line x1="255.7" y1="683.8" x2="259.7" y2="683.8" stroke="#111" stroke-width="1.6"/>
<line x1="291.04999999999995" y1="685.2" x2="291.04999999999995" y2="686.8" stroke="#111" stroke-width="1.3"/>
<line x1="289.44999999999993" y1="685.5" x2="292.65" y2="685.5" stroke="#111" stroke-width="1.3"/>
<rect x="285.8" y="687.4" width="10.49999999999999" height="53.00000000000002" fill="#fff" stroke="#111" stroke-width="1.3"/>
<rect x="297.29999999999995" y="687.1999999999999" width="11.50000000000001" height="53.200000000000024" fill="#000" stroke="#000" stroke-width="0.8"/>
<line x1="303.04999999999995" y1="682.8" x2="303.04999999999995" y2="686.8" stroke="#111" stroke-width="1.6"/>
<line x1="301.04999999999995" y1="683.3" x2="305.04999999999995" y2="683.3" stroke="#111" stroke-width="1.6"/>
</svg>
</body></html>
